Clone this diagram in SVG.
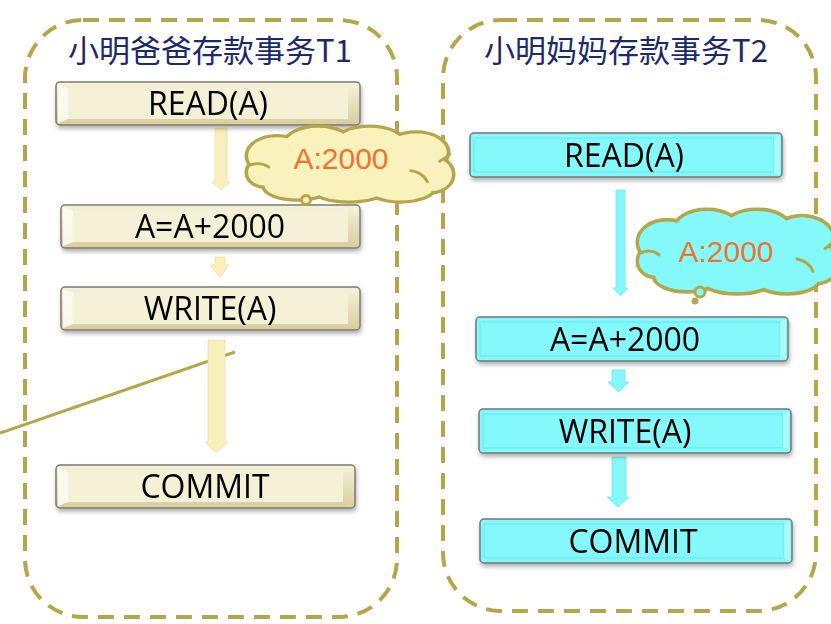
<svg xmlns="http://www.w3.org/2000/svg" xmlns:xlink="http://www.w3.org/1999/xlink" width="831" height="624" viewBox="0 0 831 624">
<style>
.frame{fill:none;stroke:#b5a64a;stroke-width:4;stroke-dasharray:16 10}
.title{font-family:"Noto Sans CJK SC","Noto Sans",sans-serif;font-size:31px;fill:#1b2a6b;text-anchor:middle}
.lbl{font-family:"Open Sans","Liberation Sans",sans-serif;font-size:32px;fill:#000;text-anchor:middle}
.cloudtxt{font-family:"Liberation Sans",Arial,sans-serif;font-size:30px;fill:#ee7430;text-anchor:middle}
.yOuter{fill:url(#gy);stroke:#7d7b70;stroke-width:1.5}
.yFace{fill:#f5f1d6}
.yHl{fill:#fdfcf3;opacity:.9}
.cOuter{fill:#84f9fc;stroke:#767676;stroke-width:1.5}
.cInner{fill:none;stroke:#6fe3e7;stroke-width:1}
.cHl{fill:#a9fbfd}
.arrY{fill:#f8efbd;stroke:#ece0a0;stroke-width:.8}
.arrC{fill:#84f9fc;stroke:#72e6ea;stroke-width:.8}
.cloudO ellipse{fill:#b5a64a;stroke:#b5a64a;stroke-width:7}
.curl{fill:none;stroke:#b5a64a;stroke-width:3;stroke-linecap:round}
</style>
<defs>
<linearGradient id="gy" x1="0" y1="0" x2="0" y2="1">
<stop offset="0" stop-color="#f6f2dc"/>
<stop offset="1" stop-color="#d8cd9c"/>
</linearGradient>
<filter id="sh" x="-5%" y="-20%" width="110%" height="150%">
<feDropShadow dx="1" dy="3" stdDeviation="2" flood-color="#000" flood-opacity="0.3"/>
</filter>
<g id="cloud">
<g class="cloudO">
<ellipse cx="30" cy="32" rx="28" ry="20"/>
<ellipse cx="70" cy="20" rx="32" ry="18"/>
<ellipse cx="120" cy="18" rx="32" ry="16"/>
<ellipse cx="165" cy="28" rx="30" ry="20"/>
<ellipse cx="180" cy="52" rx="20" ry="18"/>
<ellipse cx="150" cy="66" rx="32" ry="14"/>
<ellipse cx="100" cy="68" rx="34" ry="12"/>
<ellipse cx="50" cy="64" rx="32" ry="14"/>
<ellipse cx="18" cy="50" rx="16" ry="14"/>
<ellipse cx="100" cy="42" rx="85" ry="28"/>
</g>
<g fill="inherit">
<ellipse cx="30" cy="32" rx="28" ry="20"/>
<ellipse cx="70" cy="20" rx="32" ry="18"/>
<ellipse cx="120" cy="18" rx="32" ry="16"/>
<ellipse cx="165" cy="28" rx="30" ry="20"/>
<ellipse cx="180" cy="52" rx="20" ry="18"/>
<ellipse cx="150" cy="66" rx="32" ry="14"/>
<ellipse cx="100" cy="68" rx="34" ry="12"/>
<ellipse cx="50" cy="64" rx="32" ry="14"/>
<ellipse cx="18" cy="50" rx="16" ry="14"/>
<ellipse cx="100" cy="42" rx="85" ry="28"/>
</g>
<path class="curl" d="M4,42 Q14,38 22,44"/>
<path class="curl" d="M160,48 Q172,50 176,60"/>
<path class="curl" d="M188,38 Q194,34 198,30"/>
</g>
</defs>

<g id="containers">
<rect id="frame-t1" class="frame" x="25" y="20" width="372" height="597" rx="58"/>
<rect id="frame-t2" class="frame" x="443" y="20" width="373" height="591" rx="58"/>
</g>

<g id="titles">
<text id="title-t1" class="title" x="210" y="62">小明爸爸存款事务T1</text>
<text id="title-t2" class="title" x="626" y="62">小明妈妈存款事务T2</text>
</g>

<line id="slash" x1="0" y1="433" x2="235" y2="352" stroke="#b5a64a" stroke-width="3"/>

<g id="connectors">
<path class="arrY" d="M215,128 H227 V182 H230 L221,190 L212,182 H215 Z"/>
<path class="arrY" d="M215,257 H225 V265 H229 L220,277 L210,265 H215 Z"/>
<path class="arrY" d="M208,340 H225 V442 H228 L216.5,453 L205,442 H208 Z"/>
<path class="arrC" d="M616,190 H625 V288 H628 L620.5,296 L613,288 H616 Z"/>
<path class="arrC" d="M612,370 H625 V382 H629 L618.5,392 L608,382 H612 Z"/>
<path class="arrC" d="M612,457 H626 V497 H629 L618,507 L607,497 H612 Z"/>
</g>

<g id="t1-read" filter="url(#sh)">
<rect class="yOuter" x="56" y="82" width="304" height="43" rx="4"/>
<path class="yHl" d="M58,84 L68,88 L68,119 L58,123 Z"/>
<rect class="yFace" x="68" y="88" width="280" height="31"/>
<text class="lbl" x="208" y="115">READ(A)</text>
</g>
<g id="t1-add" filter="url(#sh)">
<rect class="yOuter" x="61" y="205" width="299" height="43" rx="4"/>
<path class="yHl" d="M63,207 L73,211 L73,242 L63,246 Z"/>
<rect class="yFace" x="73" y="211" width="275" height="31"/>
<text class="lbl" x="210" y="238">A=A+2000</text>
</g>
<g id="t1-write" filter="url(#sh)">
<rect class="yOuter" x="61" y="287" width="299" height="43" rx="4"/>
<path class="yHl" d="M63,289 L73,293 L73,324 L63,328 Z"/>
<rect class="yFace" x="73" y="293" width="275" height="31"/>
<text class="lbl" x="210" y="320">WRITE(A)</text>
</g>
<g id="t1-commit" filter="url(#sh)">
<rect class="yOuter" x="56" y="465" width="299" height="43" rx="4"/>
<path class="yHl" d="M58,467 L68,471 L68,502 L58,506 Z"/>
<rect class="yFace" x="68" y="471" width="275" height="31"/>
<text class="lbl" x="205" y="498">COMMIT</text>
</g>

<g id="t2-read" filter="url(#sh)">
<rect class="cOuter" x="470" y="133" width="312" height="44" rx="4"/>
<rect class="cInner" x="474" y="138" width="300" height="34"/>
<path class="cHl" d="M774,138 L780,135 L780,175 L774,172 Z"/>
<text class="lbl" x="624" y="167">READ(A)</text>
</g>
<g id="t2-add" filter="url(#sh)">
<rect class="cOuter" x="476" y="317" width="312" height="44" rx="4"/>
<rect class="cInner" x="480" y="322" width="300" height="34"/>
<path class="cHl" d="M780,322 L786,319 L786,359 L780,356 Z"/>
<text class="lbl" x="625" y="351">A=A+2000</text>
</g>
<g id="t2-write" filter="url(#sh)">
<rect class="cOuter" x="479" y="409" width="312" height="44" rx="4"/>
<rect class="cInner" x="483" y="414" width="300" height="34"/>
<path class="cHl" d="M783,414 L789,411 L789,451 L783,448 Z"/>
<text class="lbl" x="625" y="443">WRITE(A)</text>
</g>
<g id="t2-commit" filter="url(#sh)">
<rect class="cOuter" x="480" y="519" width="312" height="44" rx="4"/>
<rect class="cInner" x="484" y="524" width="300" height="34"/>
<path class="cHl" d="M784,524 L790,521 L790,561 L784,558 Z"/>
<text class="lbl" x="633" y="553">COMMIT</text>
</g>

<g id="cloud-t1">
<use xlink:href="#cloud" href="#cloud" fill="#f9f2bd" transform="translate(246,126) scale(1.03,0.93)"/>
<circle cx="306" cy="200" r="4.5" fill="#f9f2bd" stroke="#b5a64a" stroke-width="3"/>
<text class="cloudtxt" x="341" y="169">A:2000</text>
</g>
<g id="cloud-t2">
<use xlink:href="#cloud" href="#cloud" fill="#84f9fc" transform="translate(637,209) scale(1.0,1.04)"/>
<circle cx="700" cy="292" r="5" fill="#84f9fc" stroke="#b5a64a" stroke-width="3"/>
<circle cx="695" cy="301" r="3.5" fill="#b5a64a"/>
<text class="cloudtxt" x="726" y="262">A:2000</text>
</g>
</svg>
